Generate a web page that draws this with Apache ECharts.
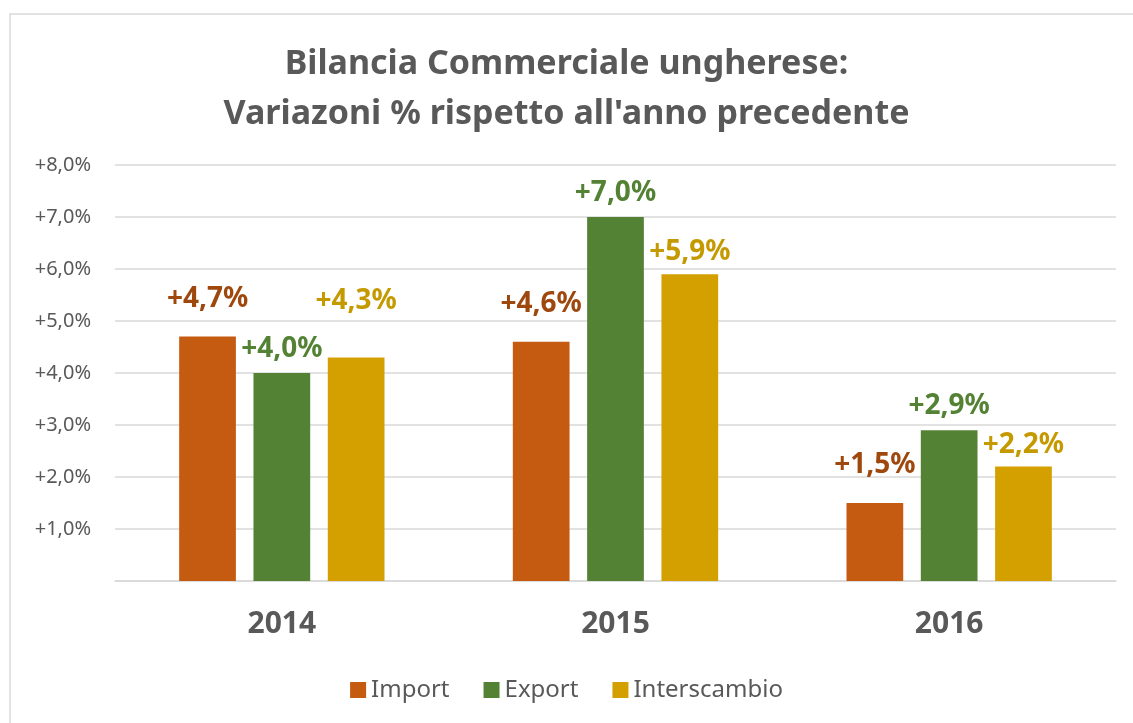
<!DOCTYPE html>
<html>
<head>
<meta charset="utf-8">
<script src="https://cdn.jsdelivr.net/npm/echarts@6/dist/echarts.min.js"></script>
<style>
html, body { margin: 0; padding: 0; background: #fff; }
#chart { width: 1133px; height: 723px; }
</style>
</head>
<body>
<div id="chart"></div>
<script>
let years = ['2014', '2015', '2016'];
let importData = [4.7, 4.6, 1.5];
let exportData = [4.0, 7.0, 2.9];
let interscambioData = [4.3, 5.9, 2.2];

let textColor = '#595959';
let fontName = '"Noto Sans", "Open Sans", sans-serif';

function fmt(v) {
    return '+' + v.toFixed(1).replace('.', ',') + '%';
}

// extra[i] lets a single label sit higher, as placed by hand in the original
function makeSeries(name, data, color, labelColor, dist, extra) {
    return {
        name: name,
        type: 'bar',
        data: data.map(function (v, i) {
            if (extra && extra[i]) {
                return { value: v, label: { distance: extra[i] } };
            }
            return v;
        }),
        barWidth: '17%',
        barGap: '31%',
        itemStyle: { color: color },
        label: {
            show: true,
            position: 'top',
            distance: dist,
            color: labelColor,
            fontFamily: fontName,
            fontWeight: 'bold',
            fontSize: 28,
            formatter: function (p) { return fmt(p.value); }
        }
    };
}

let chart = echarts.init(document.getElementById('chart'));
let option = {
    backgroundColor: '#fff',
    graphic: [{
        type: 'rect',
        shape: { x: 10, y: 14, width: 1140, height: 720 },
        style: { fill: 'none', stroke: '#d9d9d9', lineWidth: 1.5 },
        silent: true
    }],
    title: {
        text: 'Bilancia Commerciale ungherese:\nVariazoni % rispetto all\'anno precedente',
        left: 'center',
        top: 34,
        textStyle: {
            color: textColor,
            fontFamily: fontName,
            fontWeight: 'bold',
            fontSize: 34,
            lineHeight: 50
        }
    },
    legend: {
        bottom: 16,
        left: 'center',
        itemWidth: 16,
        itemHeight: 16,
        itemGap: 34,
        icon: 'rect',
        textStyle: { color: textColor, fontFamily: fontName, fontSize: 24 },
        data: ['Import', 'Export', 'Interscambio']
    },
    grid: {
        left: 115,
        right: 17,
        top: 165,
        bottom: 142
    },
    xAxis: {
        type: 'category',
        data: years,
        axisLine: { lineStyle: { color: '#d9d9d9', width: 1.5 } },
        axisTick: { show: false },
        axisLabel: {
            color: textColor,
            fontFamily: fontName,
            fontWeight: 'bold',
            fontSize: 30,
            margin: 28
        }
    },
    yAxis: {
        type: 'value',
        min: 0,
        max: 8,
        interval: 1,
        axisLine: { show: false },
        axisTick: { show: false },
        splitLine: { lineStyle: { color: '#d9d9d9', width: 1.5 } },
        axisLabel: {
            color: textColor,
            fontFamily: fontName,
            fontSize: 20,
            margin: 24,
            formatter: function (v) { return v === 0 ? '' : fmt(v); }
        }
    },
    series: [
        makeSeries('Import', importData, '#c55a11', '#9e480e', 24),
        makeSeries('Export', exportData, '#548235', '#548235', 10),
        makeSeries('Interscambio', interscambioData, '#d4a000', '#c59a00', 8, [42])
    ]
};
chart.setOption(option);
</script>
</body>
</html>
